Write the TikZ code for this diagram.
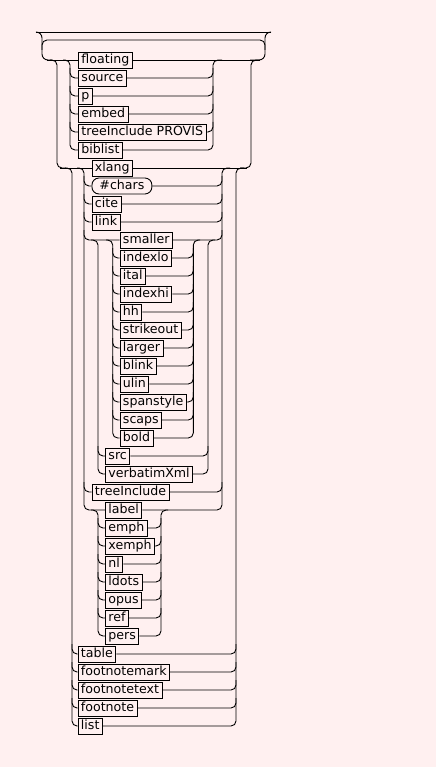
\documentclass[tikz,border=0pt]{standalone}
\usepackage{fontspec}
\newfontfamily\rrfont{DejaVu Sans}
\definecolor{bgpink}{RGB}{255,240,240}
\begin{document}
\begin{tikzpicture}[x=1pt,y=-1pt,
  rail/.style={line width=0.9pt, black},
  rc/.style={rail, rounded corners=5pt},
  rcw/.style={rail, rounded corners=6pt},
  box/.style={draw, rail, anchor=west, minimum height=16pt, inner xsep=3pt, inner ysep=0pt,
    text height=9.2pt, text depth=2.6pt, font=\rrfont\fontsize{12.6}{14}\selectfont},
  pill/.style={box, rounded corners=7pt, inner xsep=7.5pt}]
\fill[bgpink] (0,0) rectangle (436,767);
\useasboundingbox (0,0) rectangle (436,767);

% boxes
\node[box] (nfloating) at (78,60) {floating};
\node[box] (nsource) at (78,78) {source};
\node[box] (np) at (78,96) {p};
\node[box] (nembed) at (78,114) {embed};
\node[box] (ntip) at (78,132) {treeInclude PROVIS};
\node[box] (nbiblist) at (78,150) {biblist};
\node[box] (nxlang) at (91.5,168) {xlang};
\node[pill] (nchars) at (91.5,186) {\#chars};
\node[box] (ncite) at (91.5,204) {cite};
\node[box] (nlink) at (91.5,222) {link};
\node[box] (nsmaller) at (119.5,240) {smaller};
\node[box] (nindexlo) at (119.5,258) {indexlo};
\node[box] (nital) at (119.5,276) {ital};
\node[box] (nindexhi) at (119.5,294) {indexhi};
\node[box] (nhh) at (119.5,312) {hh};
\node[box] (nstrikeout) at (119.5,330) {strikeout};
\node[box] (nlarger) at (119.5,348) {larger};
\node[box] (nblink) at (119.5,366) {blink};
\node[box] (nulin) at (119.5,384) {ulin};
\node[box] (nspanstyle) at (119.5,402) {spanstyle};
\node[box] (nscaps) at (119.5,420) {scaps};
\node[box] (nbold) at (119.5,438) {bold};
\node[box] (nsrc) at (105,456) {src};
\node[box] (nverbatimXml) at (105,474) {verbatimXml};
\node[box] (ntreeInclude) at (91.5,492) {treeInclude};
\node[box] (nlabel) at (105,510) {label};
\node[box] (nemph) at (105,528) {emph};
\node[box] (nxemph) at (105,546) {xemph};
\node[box] (nnl) at (105,564) {nl};
\node[box] (nldots) at (105,582) {ldots};
\node[box] (nopus) at (105,600) {opus};
\node[box] (nref) at (105,618) {ref};
\node[box] (npers) at (105,636) {pers};
\node[box] (ntable) at (77.5,654) {table};
\node[box] (nfootnotemark) at (77.5,672) {footnotemark};
\node[box] (nfootnotetext) at (77.5,690) {footnotetext};
\node[box] (nfootnote) at (77.5,708) {footnote};
\node[box] (nlist) at (77.5,726) {list};

% outer loop
\draw[rail] (36,32) -- (271,32);
\draw[rcw] (36,32) -| (42,60) -- (52,60);
\draw[rc] (42,50) |- (60,40) -- (250,40) -| (265,50);
\draw[rcw] (250,60) -| (265,32) -- (271,32);

% main line
\draw[rail] (47,60) -- (nfloating.west);
\draw[rail] (nfloating.east) -- (260,60);

% top-level choice
\draw[rc] (50,60) -| (57,168) -- (66,168);
\draw[rc] (240,168) -| (251,60) -- (259,60);

% choice A
\draw[rc] (63,60) -| (70,150) -- (nbiblist.west);
\draw[rc] (nbiblist.east) -| (213,60) -- (222,60);
\foreach \n/\y in {nsource/78, np/96, nembed/114, ntip/132}{
  \draw[rc] (70,\y-10) |- (\n.west);
  \draw[rc] (\n.east) -| (213,\y-10);
}

% row 168
\draw[rail] (60,168) -- (nxlang.west);
\draw[rail] (nxlang.east) -- (247,168);

% choice B
\draw[rc] (65,168) -| (72,726) -- (nlist.west);
\draw[rc] (nlist.east) -| (236,168) -- (244,168);
\foreach \n/\y in {ntable/654, nfootnotemark/672, nfootnotetext/690, nfootnote/708}{
  \draw[rc] (72,\y-10) |- (\n.west);
  \draw[rc] (\n.east) -| (236,\y-10);
}

% choice C
\draw[rc] (77,168) -| (84,510) -- (nlabel.west);
\draw[rc] (nlabel.east) -| (222,168) -- (230,168);
\foreach \n/\y in {nchars/186, ncite/204, nlink/222, nsmaller/240, ntreeInclude/492}{
  \draw[rc] (84,\y-10) |- (\n.west);
  \draw[rc] (\n.east) -| (222,\y-10);
}

% choice D2
\draw[rc] (91,240) -| (98,474) -- (nverbatimXml.west);
\draw[rc] (nverbatimXml.east) -| (208,240) -- (215,240);
\draw[rc] (98,446) |- (nsrc.west);
\draw[rc] (nsrc.east) -| (208,446);

% choice E
\draw[rc] (106,240) -| (112.7,438) -- (nbold.west);
\draw[rc] (nbold.east) -| (193.3,240) -- (200,240);
\foreach \n/\y in {nindexlo/258, nital/276, nindexhi/294, nhh/312, nstrikeout/330, nlarger/348, nblink/366, nulin/384, nspanstyle/402, nscaps/420}{
  \draw[rc] (112.7,\y-10) |- (\n.west);
  \draw[rc] (\n.east) -| (193.3,\y-10);
}

% choice D
\draw[rc] (91,510) -| (98,636) -- (npers.west);
\draw[rc] (npers.east) -| (161,510) -- (168,510);
\foreach \n/\y in {nemph/528, nxemph/546, nnl/564, nldots/582, nopus/600, nref/618}{
  \draw[rc] (98,\y-10) |- (\n.west);
  \draw[rc] (\n.east) -| (161,\y-10);
}
\end{tikzpicture}
\end{document}
